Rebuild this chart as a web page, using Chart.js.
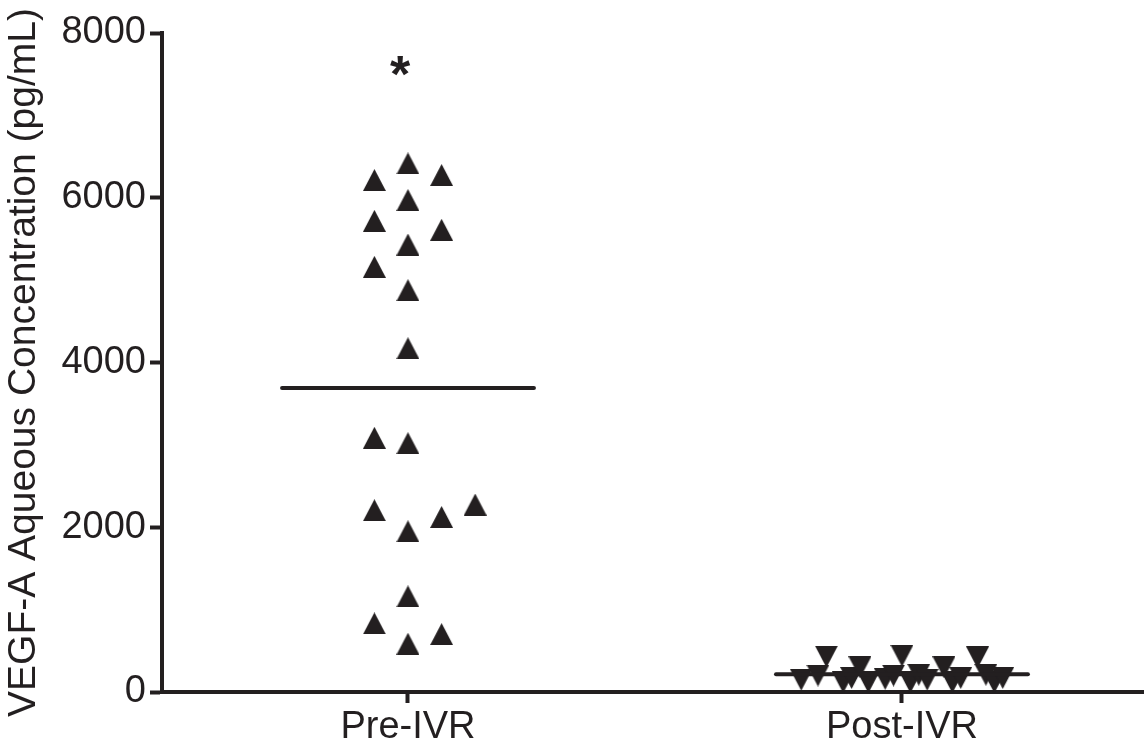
<!DOCTYPE html>
<html>
<head>
<meta charset="utf-8">
<script src="https://cdn.jsdelivr.net/npm/chart.js@4"></script>
<style>
html, body { margin: 0; padding: 0; background: #fff; }
</style>
</head>
<body>
<canvas id="vegfChart" width="1144" height="742"></canvas>
<script>
// groups and values (pg/mL)
const categories = ['Pre-IVR', 'Post-IVR'];
const preValues = [6215, 6417, 6276, 5972, 5720, 5611, 5432, 5161, 4878, 4173, 3086, 3021, 2276, 2207, 2125, 1951, 1161, 833, 703, 586];
const preSlots  = [-4, 0, 4, 0, -4, 4, 0, -4, 0, 0, -4, 0, 8, -4, 4, 0, 0, -4, 4, 0];
const postValues = [150, 200, 430, 120, 170, 300, 120, 160, 200, 440, 120, 210, 150, 300, 120, 170, 420, 210, 120, 170];
const postSlots  = [-12, -10, -9, -7, -6, -5, -4, -2, -1, 0, 1, 2, 3, 5, 6, 7, 9, 10, 11, 12];
const yTicks = [0, 2000, 4000, 6000, 8000];
const starLabel = { text: '*', group: 0, y: 7600 };

const slotWidth = 0.017;      // scatter offset step, in category units
const meanHalfWidth = 0.255;
const ink = '#231f20';
const fontFamily = '"Liberation Sans", Arial, sans-serif';

function triangleImage(up) {
  const c = document.createElement('canvas');
  c.width = 23; c.height = 22;
  const g = c.getContext('2d');
  g.fillStyle = ink;
  g.beginPath();
  if (up) { g.moveTo(0, 22); g.lineTo(11.5, 0); g.lineTo(23, 22); }
  else { g.moveTo(0, 0); g.lineTo(11.5, 22); g.lineTo(23, 0); }
  g.closePath();
  g.fill();
  return c;
}

function toPoints(values, slots, group) {
  return values.map((v, i) => ({ x: group + slots[i] * slotWidth, y: v }));
}
function mean(values) {
  return values.reduce((a, b) => a + b, 0) / values.length;
}
function meanLine(values, group) {
  const m = mean(values);
  return [{ x: group - meanHalfWidth, y: m }, { x: group + meanHalfWidth, y: m }];
}

const starPlugin = {
  id: 'star',
  afterDatasetsDraw(chart) {
    const ctx = chart.ctx;
    const x = chart.scales.x.getPixelForValue(starLabel.group) - 8;
    const y = chart.scales.y.getPixelForValue(starLabel.y);
    ctx.save();
    ctx.font = 'bold 52px ' + fontFamily;
    ctx.fillStyle = ink;
    ctx.textAlign = 'center';
    ctx.textBaseline = 'alphabetic';
    const m = ctx.measureText(starLabel.text);
    ctx.fillText(starLabel.text, x, y + (m.actualBoundingBoxAscent - m.actualBoundingBoxDescent) / 2);
    ctx.restore();
  }
};

const lineStyle = {
  type: 'line', showLine: true, pointRadius: 0, borderColor: ink,
  borderWidth: 4, borderCapStyle: 'round', clip: false
};

new Chart(document.getElementById('vegfChart'), {
  type: 'scatter',
  data: {
    datasets: [
      Object.assign({ label: 'Pre mean', data: meanLine(preValues, 0) }, lineStyle),
      Object.assign({ label: 'Post mean', data: meanLine(postValues, 1) }, lineStyle),
      {
        label: categories[0], data: toPoints(preValues, preSlots, 0),
        pointStyle: triangleImage(true), pointRadius: 12, clip: false
      },
      {
        label: categories[1], data: toPoints(postValues, postSlots, 1),
        pointStyle: triangleImage(false), pointRadius: 12, clip: false
      }
    ]
  },
  options: {
    responsive: false,
    animation: false,
    events: [],
    layout: { autoPadding: false, padding: { top: 33, right: 0, bottom: 0, left: 0 } },
    plugins: { legend: { display: false }, tooltip: { enabled: false } },
    scales: {
      x: {
        type: 'linear', min: -0.498, max: 1.49,
        afterBuildTicks: (s) => { s.ticks = categories.map((c, i) => ({ value: i })); },
        afterFit: (s) => { s.height = 50; s.paddingLeft = 0; s.paddingRight = 0; },
        ticks: {
          color: ink, padding: 2, maxRotation: 0,
          font: { family: fontFamily, size: 38 },
          callback: (v) => categories[v]
        },
        grid: { drawOnChartArea: false, tickLength: 11, tickWidth: 4, tickColor: ink },
        border: { display: true, width: 4, color: ink }
      },
      y: {
        min: 0, max: 8000,
        afterBuildTicks: (s) => { s.ticks = yTicks.map(v => ({ value: v })); },
        afterFit: (s) => { s.width = 162; s.paddingTop = 0; s.paddingBottom = 0; },
        ticks: {
          color: ink, padding: 4, font: { family: fontFamily, size: 38 },
          callback: (v) => String(v)
        },
        grid: { drawOnChartArea: false, tickLength: 12, tickWidth: 4, tickColor: ink },
        border: { display: true, width: 4, color: ink },
        title: {
          display: true, text: 'VEGF-A Aqueous Concentration (pg/mL)', color: ink,
          font: { family: fontFamily, size: 39 }, padding: { top: 1, bottom: 0 }
        }
      }
    }
  },
  plugins: [starPlugin]
});
</script>
</body>
</html>
